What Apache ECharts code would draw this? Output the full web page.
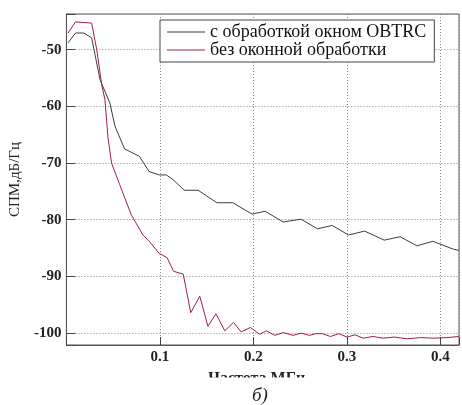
<!DOCTYPE html>
<html>
<head>
<meta charset="utf-8">
<script src="https://cdn.jsdelivr.net/npm/echarts@6/dist/echarts.min.js"></script>
<style>
  html, body { margin: 0; padding: 0; background: #fff; }
  #spm { width: 462px; height: 405px; }
</style>
</head>
<body>
<div id="spm"></div>
<script>
// частота, МГц
const freqWin = [0.0017, 0.0098, 0.0185, 0.027, 0.036, 0.0465, 0.052, 0.0622, 0.078, 0.0885, 0.0995,
  0.107, 0.114, 0.126, 0.141, 0.150, 0.161, 0.178, 0.1986, 0.2126, 0.2319, 0.251, 0.2686, 0.2844,
  0.3018, 0.319, 0.340, 0.357, 0.375, 0.392, 0.414, 0.42]
// СПМ с обработкой окном OBTRC, дБ/Гц
const spmWin = [-48.8, -47.05, -47.05, -47.9, -55.3, -59.4, -63.5, -67.5, -68.8, -71.5, -72.1,
  -72.1, -72.9, -74.8, -74.8, -75.8, -77.0, -77.0, -79.0, -78.5, -80.4, -79.9, -81.6, -81.0,
  -82.7, -82.0, -83.6, -83.0, -84.6, -83.8, -85.2, -85.4]

const freqRaw = [0.0017, 0.0098, 0.027, 0.0325, 0.0378, 0.0412, 0.0445, 0.0483, 0.057, 0.0693, 0.0815,
  0.0902, 0.099, 0.1077, 0.1147, 0.125, 0.133, 0.1427, 0.1514, 0.160, 0.1695, 0.1787, 0.187, 0.1968,
  0.2067, 0.214, 0.223, 0.232, 0.2424, 0.251, 0.26, 0.267, 0.2738, 0.2825, 0.2913, 0.3001, 0.3088,
  0.3175, 0.328, 0.3385, 0.3508, 0.3648, 0.3788, 0.3928, 0.4067, 0.42]
// СПМ без оконной обработки, дБ/Гц
const spmRaw = [-47.05, -45.1, -45.3, -50.0, -56.2, -58.8, -65.5, -70.0, -73.8, -79.1, -82.6,
  -84.1, -85.9, -86.7, -89.1, -89.6, -96.4, -93.5, -98.8, -96.6, -99.6, -98.1, -99.8, -99.0,
  -100.2, -99.6, -100.4, -99.9, -100.4, -100.0, -100.4, -100.1, -100.1, -100.6, -100.1, -100.7, -100.3,
  -100.9, -100.6, -100.9, -100.7, -101.0, -100.8, -100.9, -100.8, -100.6]

const xTicks = [0.1, 0.2, 0.3, 0.4]
const yTicks = [-50, -60, -70, -80, -90, -100]

const serif = '"Liberation Serif", "DejaVu Serif", serif'

function pairs(xs, ys) {
  return xs.map((x, i) => [x, ys[i]])
}

let chart = echarts.init(document.getElementById('spm'))
chart.setOption({
  animation: false,
  grid: {
    left: 66,
    top: 14,
    width: 400,
    height: 331,
    show: true,
    borderColor: '#555',
    borderWidth: 1
  },
  legend: {
    orient: 'vertical',
    left: 160,
    top: 20,
    padding: [3, 8, 3, 7],
    itemGap: 0,
    icon: 'rect',
    itemWidth: 38,
    itemHeight: 1.2,
    backgroundColor: '#fff',
    borderColor: '#444',
    borderWidth: 1,
    borderRadius: 0,
    textStyle: {
      fontFamily: serif,
      fontSize: 18,
      lineHeight: 18,
      color: '#111'
    },
    data: ['с обработкой окном OBTRC', 'без оконной обработки']
  },
  xAxis: {
    type: 'value',
    min: 0,
    max: 0.42,
    interval: 0.1,
    name: 'Частота МГц',
    nameLocation: 'middle',
    nameGap: 26,
    nameTextStyle: {
      fontFamily: serif,
      fontSize: 16,
      fontWeight: 'bold',
      color: '#222',
      padding: [0, 12, 0, 0]
    },
    axisLine: { lineStyle: { color: '#555', width: 1 } },
    axisTick: { inside: true, length: 8, lineStyle: { color: '#444' } },
    axisLabel: {
      fontFamily: serif,
      fontSize: 15,
      fontWeight: 'bold',
      color: '#222',
      margin: 5,
      formatter: v => xTicks.some(t => Math.abs(t - v) < 1e-6) ? v.toFixed(1) : ''
    },
    splitLine: {
      show: true,
      lineStyle: { color: '#888', type: [1, 2], width: 1 }
    }
  },
  yAxis: {
    type: 'value',
    min: -102.1,
    max: -43.7,
    name: 'СПМ,дБ/Гц',
    nameLocation: 'middle',
    nameGap: 40,
    nameTextStyle: {
      fontFamily: serif,
      fontSize: 15,
      color: '#222'
    },
    axisLine: { show: true, lineStyle: { color: '#555', width: 1 } },
    axisTick: { inside: true, length: 9, lineStyle: { color: '#444' } },
    axisLabel: {
      fontFamily: serif,
      fontSize: 15,
      fontWeight: 'bold',
      color: '#222',
      margin: 5,
      formatter: v => yTicks.includes(Math.round(v * 10) / 10) ? String(v) : ''
    },
    splitLine: {
      show: true,
      lineStyle: { color: '#888', type: [1, 2], width: 1 }
    }
  },
  graphic: [
    {
      type: 'rect',
      z: 100,
      shape: { x: 190, y: 377.5, width: 140, height: 10 },
      style: { fill: '#fff' }
    },
    {
      type: 'text',
      z: 101,
      left: 252,
      top: 386,
      style: {
        text: 'б)',
        font: 'italic 19px ' + serif,
        fill: '#222'
      }
    }
  ],
  series: [
    {
      name: 'с обработкой окном OBTRC',
      type: 'line',
      symbol: 'none',
      lineStyle: { color: '#3a3a4c', width: 1 },
      itemStyle: { color: '#3a3a4c' },
      data: pairs(freqWin, spmWin)
    },
    {
      name: 'без оконной обработки',
      type: 'line',
      symbol: 'none',
      lineStyle: { color: '#9e1f3a', width: 1 },
      itemStyle: { color: '#9e1f3a' },
      data: pairs(freqRaw, spmRaw)
    }
  ]
})
</script>
</body>
</html>
